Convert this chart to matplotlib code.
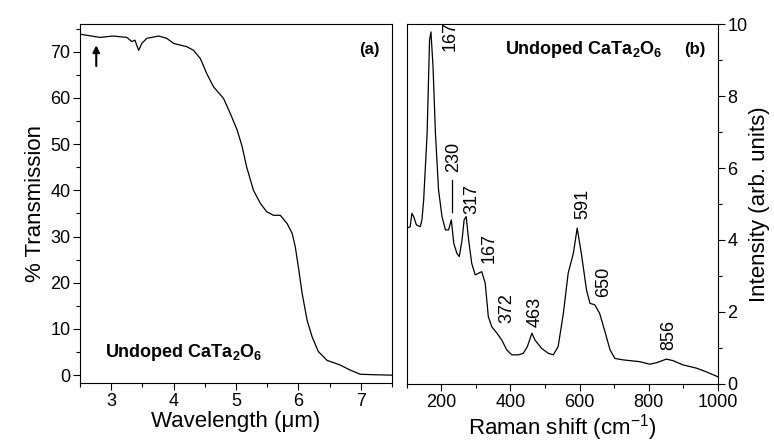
import matplotlib
matplotlib.use("Agg")
import matplotlib.pyplot as plt
from matplotlib.ticker import MultipleLocator

plt.rcParams["font.family"] = ["Liberation Sans", "DejaVu Sans"]
plt.rcParams["mathtext.default"] = "regular"

# (a) IR transmission
wavelength = [2.50, 2.82, 3.03, 3.25, 3.33, 3.38, 3.44, 3.49, 3.57, 3.76, 3.89, 4.00,
              4.21, 4.32, 4.43, 4.53, 4.64, 4.80, 4.91, 5.02, 5.10, 5.17, 5.28, 5.39,
              5.49, 5.60, 5.71, 5.82, 5.90, 5.95, 6.00, 6.06, 6.14, 6.22, 6.32, 6.46,
              6.67, 6.83, 6.99, 7.20, 7.50]
transmission = [73.8, 73.1, 73.4, 73.1, 72.2, 72.5, 70.3, 71.8, 72.9, 73.4, 72.9, 71.8,
                71.1, 70.3, 68.5, 65.3, 62.4, 59.9, 56.6, 53.0, 49.4, 45.1, 40.0, 37.2,
                35.4, 34.6, 34.6, 32.8, 30.7, 27.8, 23.4, 17.7, 11.9, 8.3, 5.1, 3.2,
                2.2, 1.1, 0.2, 0.1, 0.0]

# (b) Raman spectrum
raman_shift = [101, 110, 115, 120, 128, 139, 144, 149, 159, 166, 170, 176, 183, 192,
               202, 212, 221, 229, 236, 245, 252, 260, 266, 272, 279, 288, 298, 308,
               317, 327, 336, 346, 361, 375, 389, 404, 423, 437, 449, 462, 471, 490,
               510, 524, 538, 553, 567, 582, 593, 605, 620, 630, 644, 658, 672, 688,
               702, 726, 774, 803, 822, 851, 870, 899, 938, 966, 1000]
intensity = [4.33, 4.37, 4.74, 4.65, 4.42, 4.37, 4.56, 5.12, 6.97, 9.56, 9.78, 8.82,
             6.97, 5.39, 4.65, 4.28, 4.28, 4.56, 3.91, 3.63, 3.54, 4.00, 4.56, 4.65,
             4.00, 3.35, 3.03, 3.08, 3.12, 2.80, 1.87, 1.59, 1.41, 1.22, 0.95, 0.81,
             0.81, 0.85, 1.04, 1.41, 1.22, 0.99, 0.85, 0.81, 1.04, 1.96, 3.08, 3.63,
             4.33, 3.63, 2.61, 2.24, 2.20, 1.96, 1.50, 0.95, 0.71, 0.67, 0.62, 0.55,
             0.59, 0.69, 0.65, 0.53, 0.44, 0.34, 0.20]

peak_labels = ["167", "230", "317", "167", "372", "463", "591", "650", "856"]
peak_label_x = [226, 237, 287, 338, 391, 470, 609, 670, 857]
peak_label_y = [9.66, 6.30, 5.14, 3.77, 2.10, 1.99, 5.00, 2.83, 1.35]

fig = plt.figure(figsize=(7.74, 4.43), dpi=100)
ax1 = fig.add_axes((0.1034, 0.1354, 0.403, 0.8104))
ax2 = fig.add_axes((0.5255, 0.1332, 0.402, 0.8126))

ax1.plot(wavelength, transmission, color="black", lw=0.9)
ax1.set_xlim(2.5, 7.5)
ax1.set_ylim(-1.7, 76)
ax1.xaxis.set_major_locator(MultipleLocator(1))
ax1.xaxis.set_minor_locator(MultipleLocator(0.5))
ax1.yaxis.set_major_locator(MultipleLocator(10))
ax1.yaxis.set_minor_locator(MultipleLocator(5))
ax1.set_xlabel("Wavelength (μm)", fontsize=16, labelpad=1)
ax1.set_ylabel("% Transmission", fontsize=16, labelpad=3)
ax1.annotate("", xy=(2.76, 72.0), xytext=(2.76, 66.3),
             arrowprops=dict(arrowstyle="-|>", color="black", lw=1.5,
                             mutation_scale=10))
ax1.text(0.96, 0.93, "(a)", transform=ax1.transAxes, ha="right", va="center",
         fontsize=12, fontweight="bold")
ax1.text(0.08, 0.085, "Undoped CaTa$_2$O$_6$", transform=ax1.transAxes,
         ha="left", va="center", fontsize=13, fontweight="bold")

ax2.plot(raman_shift, intensity, color="black", lw=0.9)
ax2.set_xlim(100, 1000)
ax2.set_ylim(0, 10)
ax2.xaxis.set_major_locator(MultipleLocator(200))
ax2.xaxis.set_minor_locator(MultipleLocator(100))
ax2.yaxis.set_major_locator(MultipleLocator(2))
ax2.yaxis.set_minor_locator(MultipleLocator(1))
ax2.yaxis.tick_right()
ax2.yaxis.set_label_position("right")
ax2.set_xlabel("Raman shift (cm$^{-1}$)", fontsize=16, labelpad=1)
ax2.set_ylabel("Intensity (arb. units)", fontsize=16, labelpad=1)
for lab, px, py in zip(peak_labels, peak_label_x, peak_label_y):
    ax2.text(px, py, lab, rotation=90, ha="center", va="center", fontsize=13)
ax2.plot([232, 232], [4.79, 5.67], color="black", lw=0.9)
ax2.text(0.96, 0.93, "(b)", transform=ax2.transAxes, ha="right", va="center",
         fontsize=12, fontweight="bold")
ax2.text(0.315, 0.93, "Undoped CaTa$_2$O$_6$", transform=ax2.transAxes,
         ha="left", va="center", fontsize=13, fontweight="bold")

for ax in (ax1, ax2):
    ax.tick_params(which="major", direction="out", length=5, width=0.8,
                   labelsize=13, pad=2)
    ax.tick_params(which="minor", direction="out", length=3, width=0.8)
    for s in ax.spines.values():
        s.set_linewidth(0.8)

fig.savefig("out.png", dpi=100)
